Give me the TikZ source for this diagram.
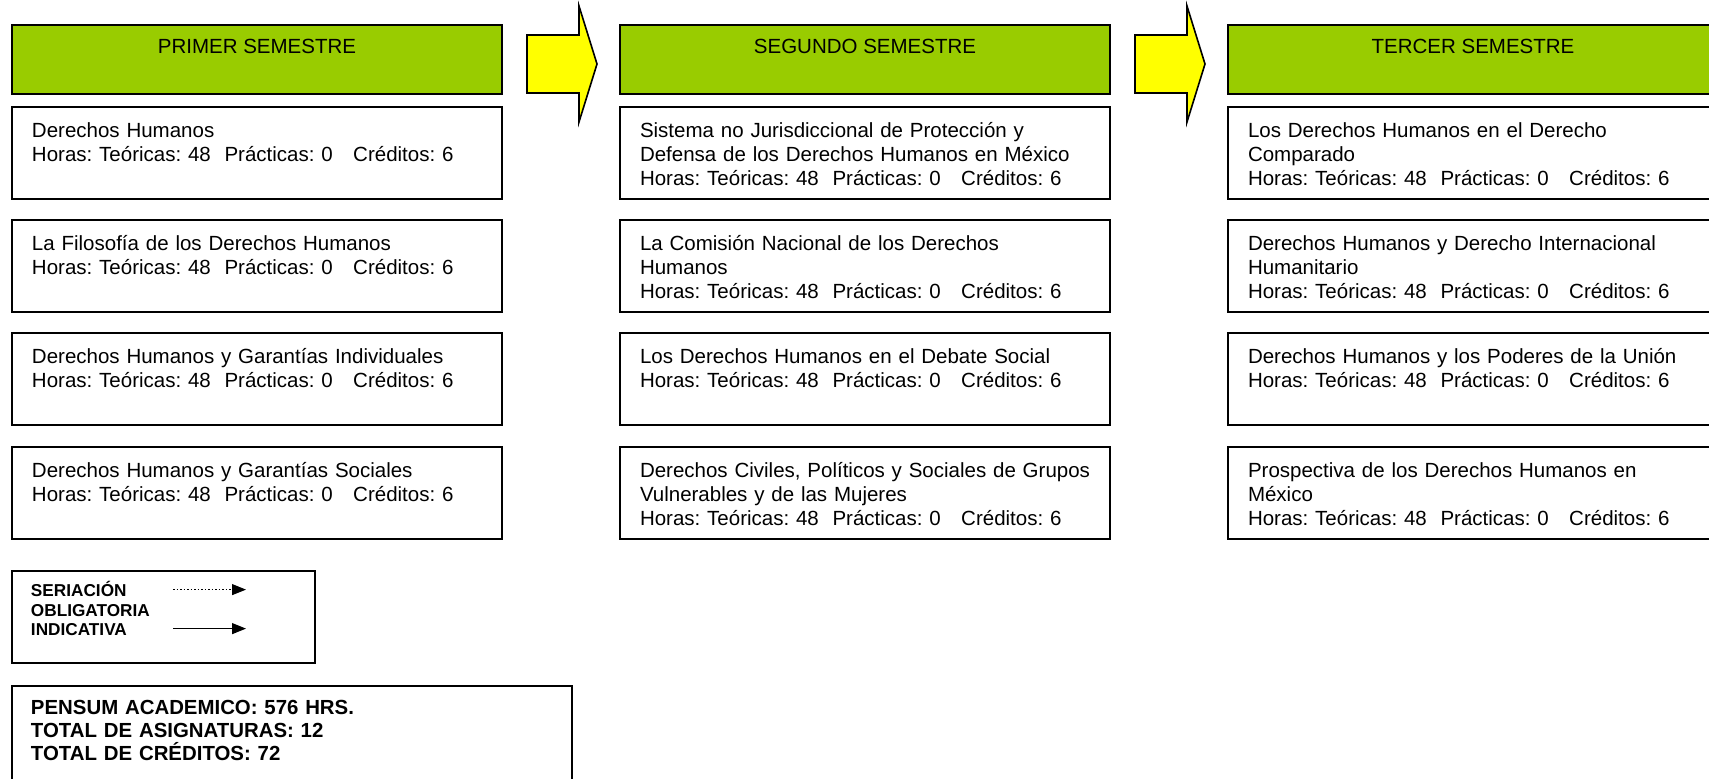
\documentclass[tikz,border=0pt]{standalone}
\usepackage{fontspec}
\setmainfont{Liberation Sans}
\frenchspacing
\usetikzlibrary{positioning, calc, arrows.meta}
\definecolor{V}{RGB}{153,204,0}
\definecolor{Y}{RGB}{255,255,0}
\tikzstyle{semestre} = [draw=black, line width=1pt, fill=V,
minimum width=245pt, inner sep=0pt,
text height=14.25pt, text depth=20.25pt, % text sits near the top
font=\fontsize{10.25}{12}\selectfont]
\tikzstyle{materia} = [draw=black, line width=1pt, text width=225pt,
inner xsep=10pt, inner ysep=0pt, align=left,
text height=15.25pt, text depth=30.75pt,
font=\fontsize{10.25}{12}\selectfont]
\tikzstyle{leyenda} = [draw=black, line width=1pt, text width=132.5pt,
inner xsep=9.5pt, inner ysep=0pt, align=left,
text height=13pt, text depth=33pt,
font=\fontsize{8.6}{9.8}\selectfont\bfseries]
\tikzstyle{resumen} = [draw=black, line width=1pt, text width=261pt,
inner xsep=9.5pt, inner ysep=0pt, align=left,
text height=14.4pt, text depth=45.6pt,
font=\fontsize{10.2}{11.5}\selectfont\bfseries]
\tikzstyle{flecha} = [draw=black, line width=0.8pt, fill=Y, line join=miter]
\tikzstyle{serie} = [line width=0.6pt, -{Triangle[length=7pt,width=5.5pt]}]
\newcommand{\horas}{Horas: Teóricas: 48\ \ Prácticas: 0\ \ \ Créditos: 6}

\begin{document}
\begin{tikzpicture}[
  x=0.5pt, y=-0.5pt, % one unit is one pixel of the page, y going down
  node distance=5.5pt,
]
  \useasboundingbox (0,0) rectangle (1709,778);

  \node[semestre, anchor=north west] (s1) at (11,24) {PRIMER SEMESTRE};
  \node[semestre, right=58pt of s1]  (s2) {SEGUNDO SEMESTRE};
  \node[semestre, right=58pt of s2]  (s3) {TERCER SEMESTRE};

  \node[materia, below=of s1]         (m11) {Derechos Humanos\\\horas};
  \node[materia, below=9.6pt of m11]  (m12) {La Filosofía de los Derechos Humanos\\\horas};
  \node[materia, below=9.6pt of m12]  (m13) {Derechos Humanos y Garantías Individuales\\\horas};
  \node[materia, below=9.6pt of m13]  (m14) {Derechos Humanos y Garantías Sociales\\\horas};

  \node[materia, below=of s2]         (m21) {Sistema no Jurisdiccional de Protección y\\Defensa de los Derechos Humanos en México\\\horas};
  \node[materia, below=9.6pt of m21]  (m22) {La Comisión Nacional de los Derechos\\Humanos\\\horas};
  \node[materia, below=9.6pt of m22]  (m23) {Los Derechos Humanos en el Debate Social\\\horas};
  \node[materia, below=9.6pt of m23]  (m24) {\mbox{Derechos Civiles, Políticos y Sociales de Grupos}\\Vulnerables y de las Mujeres\\\horas};

  \node[materia, below=of s3]         (m31) {Los Derechos Humanos en el Derecho\\Comparado\\\horas};
  \node[materia, below=9.6pt of m31]  (m32) {Derechos Humanos y Derecho Internacional\\Humanitario\\\horas};
  \node[materia, below=9.6pt of m32]  (m33) {Derechos Humanos y los Poderes de la Unión\\\horas};
  \node[materia, below=9.6pt of m33]  (m34) {Prospectiva de los Derechos Humanos en\\México\\\horas};

  % big arrows between semesters
  \foreach \s in {s1, s2}
    \draw[flecha] ($(\s.north east)+(24,11)$) -- ++(52,0) -- ++(0,-29) -- ++(18,58)
      -- ++(-18,58) -- ++(0,-29) -- ++(-52,0) -- cycle;

  \node[leyenda, below=15pt of m14.south west, anchor=north west] (ley) {SERIACIÓN\\OBLIGATORIA\\INDICATIVA};
  \coordinate (o1) at ($(ley.north west)+(162,20)$);
  \coordinate (o2) at ($(ley.north west)+(235,20)$);
  \coordinate (i1) at ($(ley.north west)+(162,59)$);
  \coordinate (i2) at ($(ley.north west)+(235,59)$);
  \draw[serie, line width=0.5pt, dash pattern=on 0.8pt off 0.95pt] (o1) -- (o2);
  \draw[serie] (i1) -- (i2);

  \node[resumen, below=10.5pt of ley.south west, anchor=north west] (res) {PENSUM ACADEMICO: 576 HRS.\\TOTAL DE ASIGNATURAS: 12\\TOTAL DE CRÉDITOS: 72};
\end{tikzpicture}
\end{document}
